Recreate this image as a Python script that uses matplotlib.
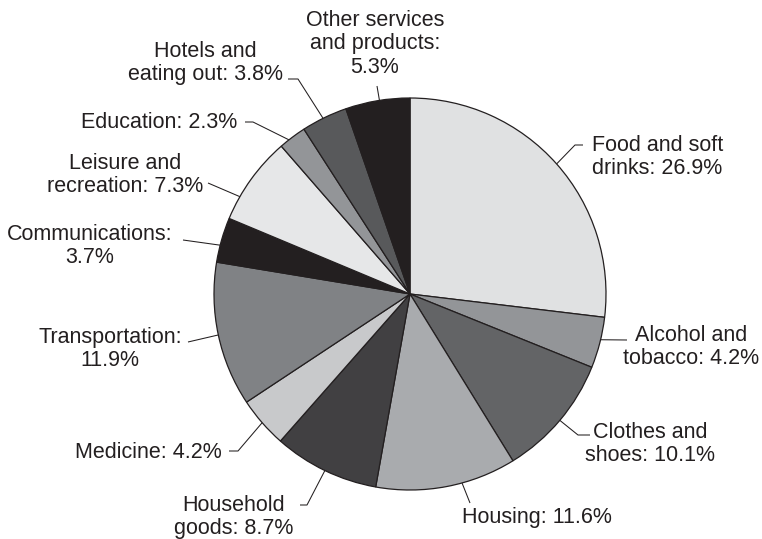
import numpy as np
import matplotlib
matplotlib.use("Agg")
import matplotlib.pyplot as plt

# Household spending shares (%), clockwise from 12 o'clock
categories = ["Food and soft drinks", "Alcohol and tobacco", "Clothes and shoes",
              "Housing", "Household goods", "Medicine", "Transportation",
              "Communications", "Leisure and recreation", "Education",
              "Hotels and eating out", "Other services and products"]
shares = [26.9, 4.2, 10.1, 11.6, 8.7, 4.2, 11.9, 3.7, 7.3, 2.3, 3.8, 5.3]
labels = ["Food and soft\ndrinks: 26.9%", "Alcohol and\ntobacco: 4.2%",
          "Clothes and\nshoes: 10.1%", "Housing: 11.6%",
          "Household\ngoods: 8.7%", "Medicine: 4.2%",
          "Transportation:\n11.9%", "Communications:\n3.7%",
          "Leisure and\nrecreation: 7.3%", "Education: 2.3%",
          "Hotels and\neating out: 3.8%", "Other services\nand products:\n5.3%"]

colors = ["#e0e1e2", "#939598", "#636466", "#a9abae", "#414042", "#c8c9cb",
          "#808285", "#231f20", "#e6e7e8", "#939598", "#58595b", "#231f20"]

W, H = 762, 539
CX, CY, R = 410, 294, 196
INK = "#231f20"

# layout (pixel coords, y from top): where the leader touches the slice,
# leader elbow points, and text anchor
anchor_frac = [0.5, 0.44, 0.5, 0.39, 0.5, 0.5, 0.5, 0.38, 0.27, 0.35, 0.47, 0.53]
leaders = [
    [(575, 145), (583, 145)],
    [(627, 340)],
    [(578, 435), (590, 435)],
    [(470, 503)],
    [(307, 505), (300, 505)],
    [(238, 451), (229, 451)],
    [(188, 342)],
    [(183, 240)],
    [(208, 183)],
    [(253, 122), (245, 122)],
    [(298, 79), (288, 79)],
    [(377, 86)],
]
text_pos = [(592, 157, "left"), (691, 347, "center"), (650, 444, "center"),
            (537, 518, "center"), (234, 517, "center"), (222, 452, "right"),
            (110, 349, "center"), (90, 246, "center"), (125, 175, "center"),
            (237, 122, "right"), (205, 63, "center"), (375, 44, "center")]

plt.rcParams['font.family'] = ['Liberation Sans', 'DejaVu Sans']

fig = plt.figure(figsize=(W / 100, H / 100), dpi=100)
ax = fig.add_axes([0, 0, 1, 1])

ax.pie(shares, colors=colors, startangle=90, counterclock=False,
       center=(CX, H - CY), radius=R,
       wedgeprops=dict(edgecolor=INK, linewidth=0.9))

ax.set_xlim(0, W)
ax.set_ylim(0, H)
ax.set_aspect("equal")
ax.axis("off")

# leader lines and labels
cum = np.concatenate([[0], np.cumsum(shares)]) / sum(shares)
for i, lab in enumerate(labels):
    frac = cum[i] + anchor_frac[i] * (cum[i + 1] - cum[i])
    ang = np.deg2rad(90 - 360 * frac)
    ex = CX + R * np.cos(ang)
    ey = H - CY + R * np.sin(ang)
    xs = [ex] + [p[0] for p in leaders[i]]
    ys = [ey] + [H - p[1] for p in leaders[i]]
    ax.plot(xs, ys, color=INK, lw=0.75, solid_capstyle="butt")
    tx, ty, ha = text_pos[i]
    ax.text(tx, H - ty, lab, ha=ha, va="center", multialignment="center",
            fontsize=15.5, color=INK, linespacing=1.13)

fig.savefig("out.png", dpi=100)
